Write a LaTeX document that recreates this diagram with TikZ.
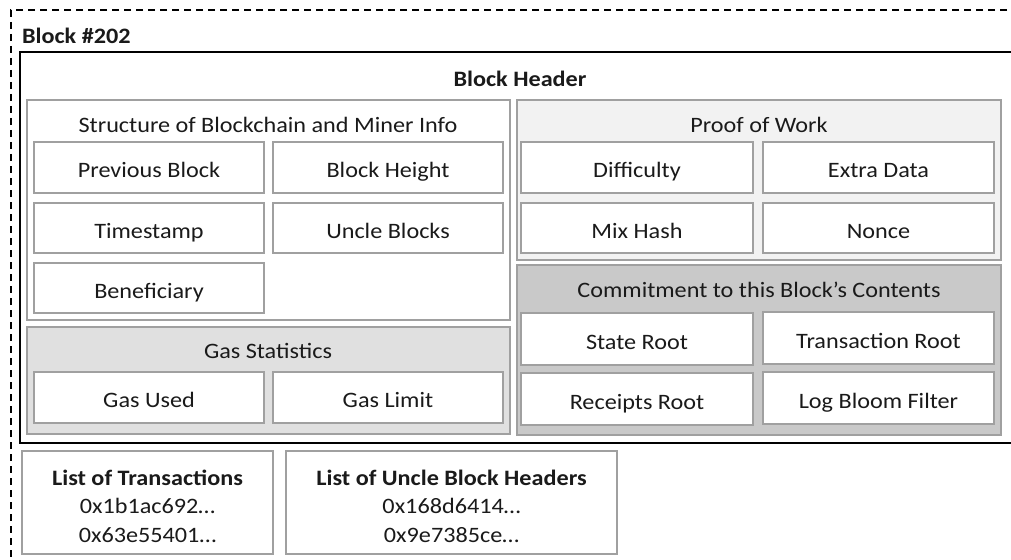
\documentclass[tikz,border=0pt]{standalone}
\usepackage{fontspec}
\setmainfont{Carlito}[FakeStretch=1.1]
\definecolor{boxgray}{HTML}{A0A0A0}
\definecolor{textc}{HTML}{1A1A1A}
\definecolor{powfill}{HTML}{F2F2F2}
\definecolor{gasfill}{HTML}{E0E0E0}
\definecolor{comfill}{HTML}{C9C9C9}
\tikzset{
  base/.style={inner sep=0pt, outer sep=0pt, anchor=north west, text=textc,
    font=\fontsize{22}{28}\selectfont},
  item/.style={base, draw=boxgray, line width=1.4pt, fill=white,
    text height=22pt, text depth=2pt},
  group/.style={base, draw=boxgray, line width=1.4pt},
  ttl/.style={inner sep=0pt, outer sep=0pt, anchor=base, text=textc,
    font=\fontsize{22}{28}\selectfont},
  bttl/.style={ttl, font=\fontsize{22}{28}\selectfont\bfseries},
}
\begin{document}
\begin{tikzpicture}[x=1pt,y=-1pt]
\useasboundingbox (0,0) rectangle (1011,559);
\clip (0,0) rectangle (1011,559);
\fill[white] (0,0) rectangle (1011,559);
% outer dashed block
\node[base, draw=black, line width=1.3pt, dash pattern=on 7pt off 5pt,
  minimum width=1030, minimum height=580] (block) at (11,10) {};
\node[bttl, anchor=base west] (blocktitle) at (22,44) {Block \#202};
% block header
\node[base, draw=black, line width=2pt, minimum width=1020, minimum height=391] (header) at (20,52) {};
\node[bttl] (headertitle) at (520,87) {Block Header};
% structure group
\node[group, fill=white, minimum width=483, minimum height=220] (struct) at (27,100) {};
\node[ttl] (structt) at (268,132) {Structure of Blockchain and Miner Info};
\node[item, minimum width=230, minimum height=51] (prev) at (34,142) {Previous Block};
\node[item, minimum width=230, minimum height=51] (height) at (273,142) {Block Height};
\node[item, minimum width=230, minimum height=50] (time) at (34,203) {Timestamp};
\node[item, minimum width=230, minimum height=50] (uncle) at (273,203) {Uncle Blocks};
\node[item, minimum width=230, minimum height=50] (benef) at (34,263) {Beneficiary};
% gas group
\node[group, fill=gasfill, minimum width=483, minimum height=107] (gas) at (27,327) {};
\node[ttl] (gast) at (268,358) {Gas Statistics};
\node[item, minimum width=230, minimum height=51] (gasused) at (34,372) {Gas Used};
\node[item, minimum width=230, minimum height=51] (gaslimit) at (273,372) {Gas Limit};
% proof of work
\node[group, fill=powfill, minimum width=484, minimum height=160] (pow) at (517,100) {};
\node[ttl] (powt) at (759,132) {Proof of Work};
\node[item, minimum width=232, minimum height=51] (diff) at (521,142) {Difficulty};
\node[item, minimum width=231, minimum height=51] (extra) at (763,142) {Extra Data};
\node[item, minimum width=232, minimum height=50] (mix) at (521,203) {Mix Hash};
\node[item, minimum width=231, minimum height=50] (nonce) at (763,203) {Nonce};
% commitment
\node[group, fill=comfill, minimum width=484, minimum height=170] (com) at (517,265) {};
\node[ttl] (comt) at (759,297) {Commitment to this Block’s Contents};
\node[item, minimum width=232, minimum height=52] (state) at (521,313) {State Root};
\node[item, minimum width=231, minimum height=52] (txroot) at (763,312) {Transaction Root};
\node[item, minimum width=232, minimum height=52] (receipts) at (521,373) {Receipts Root};
\node[item, minimum width=231, minimum height=52] (bloom) at (763,372) {Log Bloom Filter};
% lists
\node[item, minimum width=251, minimum height=103] (txlist) at (22,451) {};
\node[bttl] (txlistt) at (147.5,485) {List of Transactions};
\node[ttl] (tx1) at (147.5,513) {0x1b1ac692…};
\node[ttl] (tx2) at (147.5,542) {0x63e55401…};
\node[item, minimum width=331, minimum height=103] (unclelist) at (286,451) {};
\node[bttl] (unclelistt) at (451.5,485) {List of Uncle Block Headers};
\node[ttl] (uh1) at (451.5,513) {0x168d6414…};
\node[ttl] (uh2) at (451.5,542) {0x9e7385ce…};
\end{tikzpicture}
\end{document}
